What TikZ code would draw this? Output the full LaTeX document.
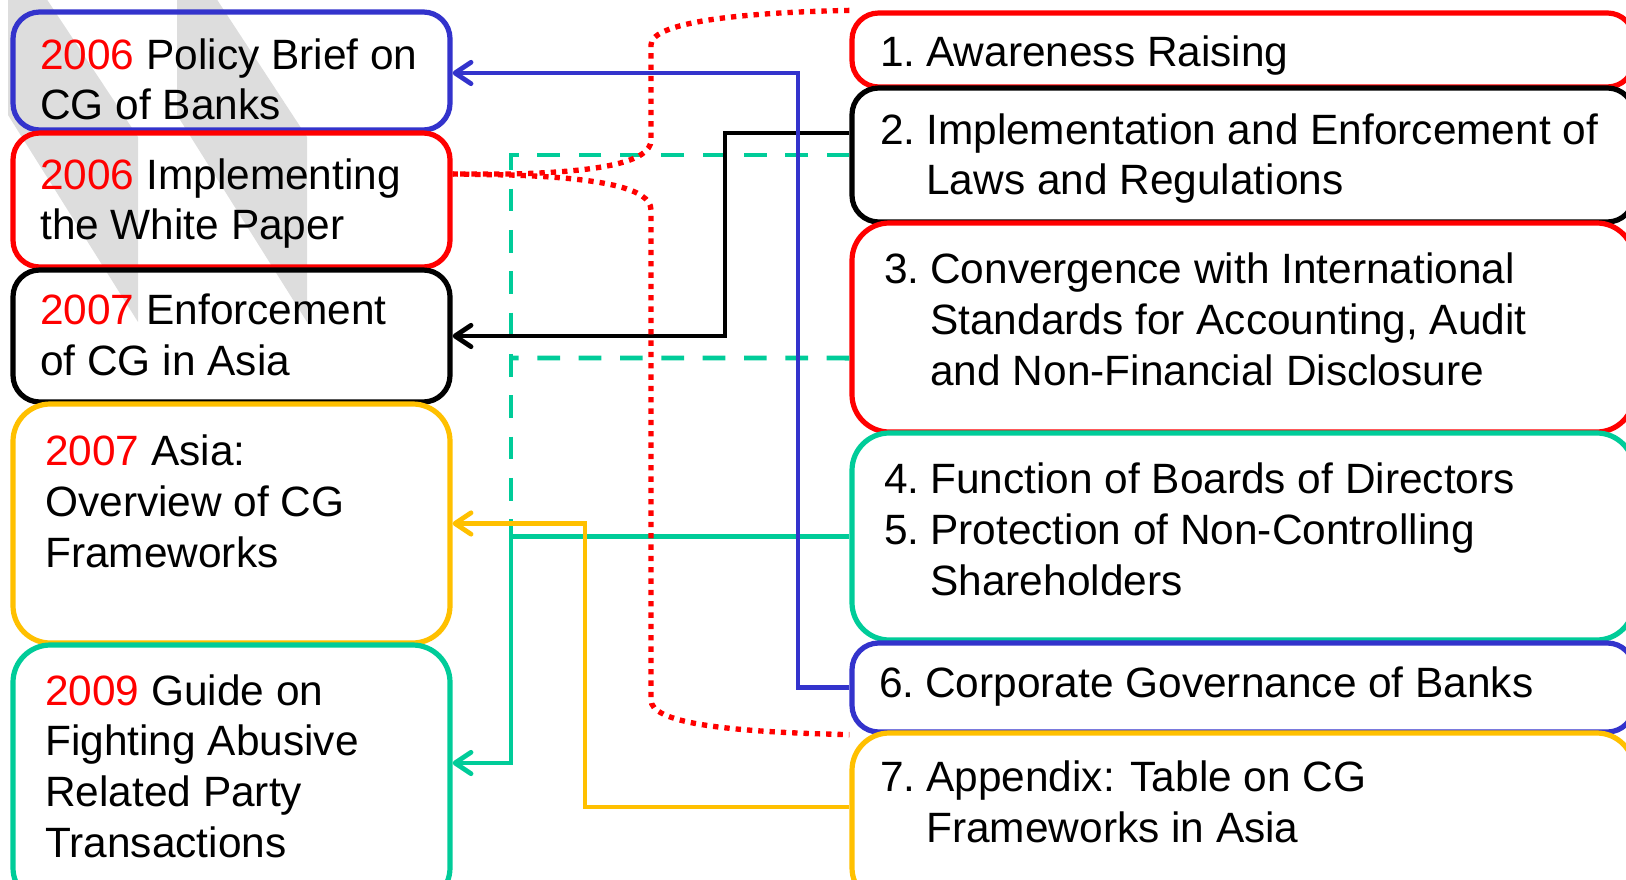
\documentclass[tikz,border=0pt]{standalone}
\usepackage{fontspec}
\setmainfont{Liberation Sans}
\usetikzlibrary{arrows.meta,fit}

\definecolor{cgred}{RGB}{255,0,0}
\definecolor{cgblue}{RGB}{51,51,204}
\definecolor{cgyellow}{RGB}{255,192,0}
\definecolor{cggreen}{RGB}{0,204,153}
\definecolor{cggrey}{RGB}{221,221,221}
\newcommand{\yr}[1]{\textcolor{cgred}{#1}}
\newcommand{\itm}[1]{#1\kern-0.8pt\ }

\tikzset{
  box/.style={draw, line width=3.9pt, rounded corners=20pt, inner sep=0pt},
  lbl/.style={anchor=base west, align=left, inner sep=0pt, font=\fontsize{31.8}{38}\selectfont},
  link/.style={line width=3.6pt},
  tip/.style={-{Straight Barb[length=12pt,width=16pt,round]}},
  hint/.style={cgred, line width=4pt, dash pattern=on 4pt off 4.5pt},
  dashlink/.style={cggreen, line width=3.7pt, dash pattern=on 17pt off 14pt}
}

\begin{document}
\begin{tikzpicture}[x=0.75pt,y=0.75pt,yscale=-1,xscale=1]
\useasboundingbox (0,0) rectangle (1626,880);
% background stripes
\fill[cggrey] (8,-5) -- (44,-5) -- (138,137) -- (138,322) -- (8,115) -- cycle;
\fill[cggrey] (177,-5) -- (214,-5) -- (307,137) -- (307,322) -- (177,115) -- cycle;

% publications (text placed by its last baseline)
\node[box, draw=cgblue, fit={(13,12) (450,130)}] (brief) {};
\node[box, draw=cgred, fit={(13,133) (450,267)}] (paper) {};
\node[box, draw=black, fit={(13,270) (450,402)}] (enforce) {};
\node[box, draw=cgyellow, rounded corners=28pt, fit={(13,404) (450,643)}] (overview) {};
\node[box, draw=cggreen, rounded corners=28pt, fit={(13,645) (450,905)}] (guide) {};
\node[lbl] (briefT) at (40,120) {\yr{2006} Policy Brief on\\CG of Banks};
\node[lbl] (paperT) at (40,240) {\yr{2006} Implementing\\the White Paper};
\node[lbl] (enforceT) at (40,375) {\yr{2007} Enforcement\\of CG in Asia};
\node[lbl] (overviewT) at (45,567) {\yr{2007} Asia:\\Overview of CG\\Frameworks};
\node[lbl] (guideT) at (45,857) {\yr{2009} Guide on\\Fighting Abusive\\Related Party\\Transactions};

% chapters
\node[box, draw=cgred, fit={(852,13) (1634,87)}] (aware) {};
\node[box, draw=black, fit={(852,88) (1634,222)}] (laws) {};
\node[box, draw=cgred, rounded corners=28pt, fit={(852,223) (1634,432)}] (conv) {};
\node[box, draw=cggreen, rounded corners=28pt, fit={(852,433) (1634,640)}] (board) {};
\node[box, draw=cgblue, fit={(852,643) (1634,732)}] (banks) {};
\node[box, draw=cgyellow, rounded corners=28pt, fit={(852,733) (1634,905)}] (appx) {};
\node[lbl] (awareT) at (880,67) {\itm{1.}Awareness Raising};
\node[lbl] (lawsT) at (880,195) {\itm{2.}Implementation and Enforcement of\\\phantom{\itm{2.}}Laws and Regulations};
\node[lbl] (convT) at (884,385) {\itm{3.}Convergence with International\\\phantom{\itm{3.}}Standards for Accounting, Audit\\\phantom{\itm{3.}}and Non-Financial Disclosure};
\node[lbl] (boardT) at (884,595) {\itm{4.}Function of Boards of Directors\\\itm{5.}Protection of Non-Controlling\\\phantom{\itm{5.}}Shareholders};
\node[lbl] (banksT) at (879,697) {\itm{6.}Corporate Governance of Banks};
\node[lbl] (appxT) at (880,842) {\itm{7.}Appendix: Table on CG\\\phantom{\itm{7.}}Frameworks in Asia};

% links
\draw[dashlink] (laws.west) -| (511,536.5);
\draw[dashlink] ([yshift=22.9pt]conv.west) -- (511,358);
\draw[link, tip] ([yshift=-16.5pt]laws.west) -| (725,336) -- (enforce.east);
\draw[link, cggreen, tip] (board.west) -| (511,763) -- ([yshift=-9pt]guide.east);
\draw[link, cgyellow, tip] ([yshift=-9pt]appx.west) -| (585,523.5) -- (overview.east);
\draw[link, cgblue, tip] (banks.west) -| (798,73) -- ([yshift=1.5pt]brief.east);
\draw[hint] (aware.north west) .. controls (720,13) and (651,25) .. (651,45) -- (651,140) .. controls (651,162) and (600,172) .. (510,174) -- ([yshift=-19.5pt]paper.east);
\draw[hint] ([yshift=-19.5pt]paper.east) -- (510,175) .. controls (600,178) and (651,188) .. (651,210) -- (651,700) .. controls (651,722) and (720,732) .. (banks.south west);
\end{tikzpicture}
\end{document}
